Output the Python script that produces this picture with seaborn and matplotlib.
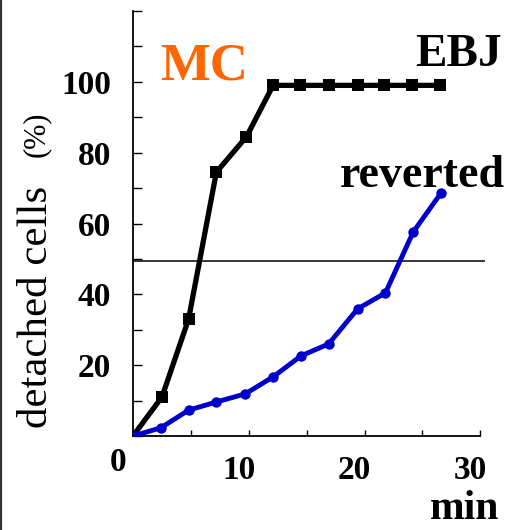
import numpy as np
import pandas as pd
import seaborn as sns
import matplotlib.pyplot as plt
from matplotlib.lines import Line2D
from matplotlib.transforms import ScaledTranslation

# values
ebj_min = [0, 2.5, 4.8, 7.2, 9.8, 12.1, 14.4, 16.9, 19.4, 21.7, 24.1, 26.5]
ebj_pct = [0, 11, 33, 74.5, 84.5, 99, 99, 99, 99, 99, 99, 99]
rev_min = [0, 2.4, 4.8, 7.2, 9.7, 12.1, 14.5, 16.9, 19.4, 21.8, 24.2, 26.6]
rev_pct = [0, 2.3, 7.3, 9.6, 11.9, 16.7, 22.6, 26.0, 35.9, 40.4, 57.6, 68.6]
half_line = 49.4

x_ticks = [0, 10, 20, 30]
x_minor = [5, 15, 25]
y_ticks = [0, 10, 20, 30, 40, 50, 60, 70, 80, 90, 100, 110, 120]
y_labels = ["", "", "20", "", "40", "", "60", "", "80", "", "100", "", ""]

sns.set_style("ticks", {"text.color": "black", "axes.labelcolor": "black",
                        "xtick.color": "black", "ytick.color": "black",
                        "axes.edgecolor": "black"})
plt.rcParams["font.family"] = ["Liberation Serif", "DejaVu Serif"]

W, H = 518, 530
fig = plt.figure(figsize=(W / 100, H / 100), dpi=100)
ax = fig.add_axes([133 / W, 1 - 436 / H, (485 - 133) / W, (436 - 11) / H])

df_ebj = pd.DataFrame({"min": ebj_min, "pct": ebj_pct})
df_rev = pd.DataFrame({"min": rev_min, "pct": rev_pct})

ax.axhline(half_line, color="black", lw=1.1, zorder=1)
sns.lineplot(data=df_ebj, x="min", y="pct", ax=ax, color="black", lw=3.8,
             marker="s", markersize=8, markeredgewidth=0, sort=False, zorder=3)
sns.lineplot(data=df_rev, x="min", y="pct", ax=ax, color="#0000cc", lw=3.5,
             marker="o", markersize=7.5, markeredgewidth=0, sort=False, zorder=4)

ax.set_xlim(0, 30.4)
ax.set_ylim(0, 120)
ax.spines["bottom"].set_bounds(0, 30)
sns.despine(ax=ax)
for s in ("left", "bottom"):
    ax.spines[s].set_linewidth(1.3)
    ax.spines[s].set_color("black")

ax.set_xticks(x_ticks)
ax.set_xticks(x_minor, minor=True)
ax.set_xticklabels([str(v) for v in x_ticks])
ax.set_yticks(y_ticks)
ax.set_yticklabels(y_labels)
ax.tick_params(axis="x", which="both", direction="in", length=4.5, width=1,
               pad=13.5, labelsize=24, colors="black")
ax.tick_params(axis="y", direction="in", length=6.5, width=1, pad=16,
               labelsize=24, colors="black")
for lab in ax.get_xticklabels() + ax.get_yticklabels():
    lab.set_fontweight("bold")
shift = ScaledTranslation(-0.1, 0, fig.dpi_scale_trans)
for i, lab in enumerate(ax.get_xticklabels()):
    if i == 0:
        lab.set_transform(lab.get_transform() + ScaledTranslation(-0.15, 0.08, fig.dpi_scale_trans))
    else:
        lab.set_transform(lab.get_transform() + shift)
ax.set_xlabel("")
ax.set_ylabel("")

def fx(px):
    return px / W

def fy(py):
    return 1 - py / H

fig.text(fx(160), fy(80), "MC", color="#ff6600", fontsize=38, fontweight="bold",
         ha="left", va="baseline")
fig.text(fx(415), fy(66), "EBJ", color="black", fontsize=34, fontweight="bold",
         ha="left", va="baseline")
fig.text(fx(340), fy(187), "reverted", color="black", fontsize=33, fontweight="bold",
         ha="left", va="baseline")
fig.text(fx(430), fy(519), "min", color="black", fontsize=30, fontweight="bold",
         ha="left", va="baseline")
fig.text(fx(47), fy(307), "detached cells", color="black", fontsize=31, rotation=90,
         rotation_mode="anchor", ha="center", va="baseline")
fig.text(fx(44), fy(134), "(%)", color="black", fontsize=22, rotation=90,
         rotation_mode="anchor", ha="center", va="baseline")

fig.add_artist(Line2D([1.2 / W, 1.2 / W], [0, 1], transform=fig.transFigure,
                      color="#333333", lw=1.6))

fig.savefig("out.png", dpi=100)
